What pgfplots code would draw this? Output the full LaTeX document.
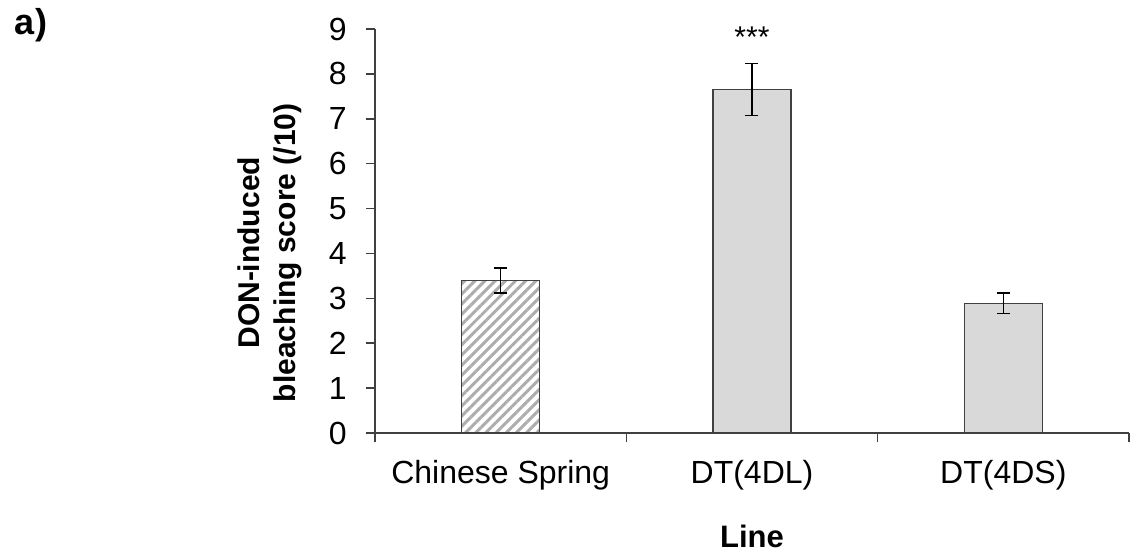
\documentclass[border=0pt]{standalone}
\usepackage{pgfplots}
\pgfplotsset{compat=1.18}
\usepackage{fontspec}
\setmainfont{Liberation Sans}
\usetikzlibrary{patterns.meta}
\definecolor{barfill}{HTML}{D9D9D9}
\definecolor{axcol}{HTML}{404040}
\begin{document}
\fontsize{15pt}{18pt}\selectfont
\begin{tikzpicture}
\useasboundingbox (-187.5pt,-59.5pt) rectangle (378pt,216.5pt);
\begin{axis}[
  at={(0,0)}, anchor=south west,
  scale only axis, width=377pt, height=202pt,
  xmin=-0.5, xmax=2.5, ymin=0, ymax=9,
  axis lines*=left,
  axis line style={axcol, line width=0.75pt},
  /pgf/number format/assume math mode=true,
  ytick={0,1,...,9},
  xtick={0,1,2},
  xticklabels={Chinese Spring, DT(4DL), DT(4DS)},
  minor xtick={-0.5,0.5,1.5,2.5},
  major x tick style={draw=none},
  tick align=outside,
  major tick length=4.5pt, minor tick length=4.5pt,
  tick style={axcol, line width=0.75pt},
  ticklabel style={font=\fontsize{16pt}{19pt}\selectfont},
  yticklabel style={xshift=-4.5pt},
  xticklabel style={yshift=-4pt},
  ylabel={DON-induced\\bleaching score (/10)},
  ylabel style={align=center, font=\fontsize{15pt}{18pt}\selectfont\bfseries, at={(axis description cs:-0.139,0.446)}, anchor=center},
  xlabel={Line},
  xlabel style={font=\fontsize{15.5pt}{18pt}\selectfont\bfseries, at={(axis description cs:0.5,-0.255)}, anchor=center},
  clip=false,
]
\addplot[ybar, bar shift=0pt, bar width=39pt, draw=axcol, line width=0.6pt,
  pattern={Lines[angle=45, distance=3.6pt, line width=1.5pt]}, pattern color=black!32,
  error bars/.cd, y dir=both, y explicit,
  error bar style={black, line width=0.75pt},
  error mark options={rotate=90, mark size=3.25pt, black, line width=0.75pt}]
  coordinates {(0,3.40) +- (0,0.28)};
\addplot[ybar, bar shift=0pt, bar width=39pt, draw=axcol, line width=0.6pt, fill=barfill,
  error bars/.cd, y dir=both, y explicit,
  error bar style={black, line width=0.75pt},
  error mark options={rotate=90, mark size=3.25pt, black, line width=0.75pt}]
  coordinates {(1,7.65) +- (0,0.58) (2,2.89) +- (0,0.23)};
\node[anchor=base] at (axis cs:1,8.58) {***};
\end{axis}
\node[font=\fontsize{18pt}{20pt}\selectfont\bfseries] at (-172pt,204pt) {a)};
\end{tikzpicture}
\end{document}
